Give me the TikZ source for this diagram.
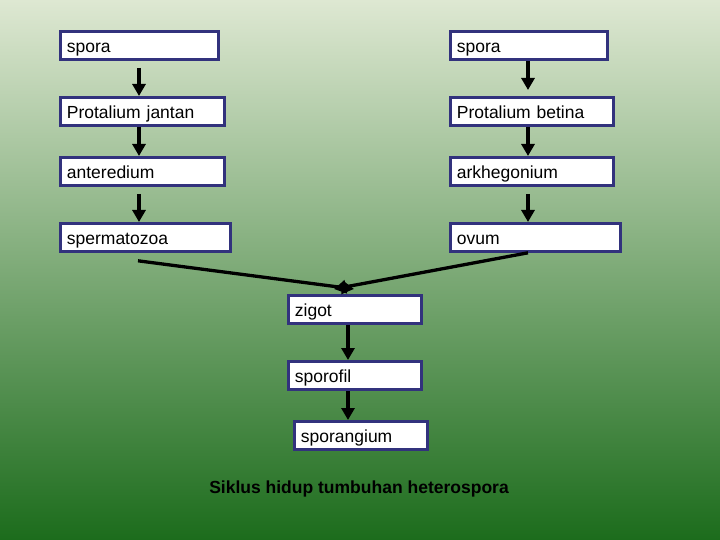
\documentclass[tikz,border=0pt]{standalone}
\usepackage{fontspec}
\setmainfont{Liberation Sans}
\usetikzlibrary{arrows.meta,calc}
\definecolor{navy}{RGB}{50,50,125}
\definecolor{bgtop}{RGB}{222,232,210}
\definecolor{bgmid}{RGB}{162,190,118}
\definecolor{bgbot}{RGB}{28,108,28}
\tikzset{
  box/.style={draw=navy, line width=2.8pt, fill=white, inner xsep=6.5pt, inner ysep=0pt,
    text height=14pt, text depth=0pt,
    minimum height=28pt, anchor=north west, align=left, font=\fontsize{17.5}{20}\selectfont},
  arr/.style={line width=3.3pt, -{Triangle[length=12pt,width=13pt]}},
  caption/.style={font=\bfseries\fontsize{17.5}{20}\selectfont, inner sep=0pt}
}
\begin{document}
\begin{tikzpicture}[x=1pt,y=-1pt]
\useasboundingbox (0,0) rectangle (720,540);
\shade[top color=bgtop, middle color=bgmid, bottom color=bgbot] (0,0) rectangle (720,540);
% left column
\node[box, text width=145pt] (sporaL) at (59,30) {spora};
\node[box, text width=151pt] (protL) at (59,96) {Protalium jantan};
\node[box, text width=151pt] (anter) at (59,156) {anteredium};
\node[box, text width=157pt] (sperm) at (59,222) {spermatozoa};
% right column
\node[box, text width=144pt] (sporaR) at (449,30) {spora};
\node[box, text width=150pt] (protR) at (449,96) {Protalium betina};
\node[box, text width=150pt] (arkh) at (449,156) {arkhegonium};
\node[box, text width=157pt] (ovum) at (449,222) {ovum};
% center
\node[box, text width=120pt] (zigot) at (287,294) {zigot};
\node[box, text width=120pt] (sporofil) at (287,360) {sporofil};
\node[box, text width=120pt] (sporang) at (293,420) {sporangium};
% caption
\node[caption] (cap) at (359,489) {Siklus hidup tumbuhan heterospora};
% arrows left
\draw[arr] ([xshift=80pt,yshift=-7pt]sporaL.south west) -- ([xshift=80pt]protL.north west);
\draw[arr] ([xshift=80pt]protL.south west) -- ([xshift=80pt]anter.north west);
\draw[arr] ([xshift=80pt,yshift=-7pt]anter.south west) -- ([xshift=80pt]sperm.north west);
% arrows right
\draw[arr] ([xshift=79pt]sporaR.south west) -- ([xshift=79pt,yshift=6pt]protR.north west);
\draw[arr] ([xshift=79pt]protR.south west) -- ([xshift=79pt]arkh.north west);
\draw[arr] ([xshift=79pt,yshift=-7pt]arkh.south west) -- ([xshift=79pt]ovum.north west);
% converging
\draw[arr] ([xshift=79pt,yshift=-8pt]sperm.south west) -- ([xshift=67pt,yshift=5pt]zigot.north west);
\draw[arr] ([xshift=79pt]ovum.south west) -- ([xshift=47pt,yshift=5pt]zigot.north west);
% center arrows
\draw[arr] ([xshift=61pt]zigot.south west) -- ([xshift=61pt]sporofil.north west);
\draw[arr] ([xshift=61pt]sporofil.south west) -- ([xshift=55pt]sporang.north west);
\end{tikzpicture}
\end{document}
